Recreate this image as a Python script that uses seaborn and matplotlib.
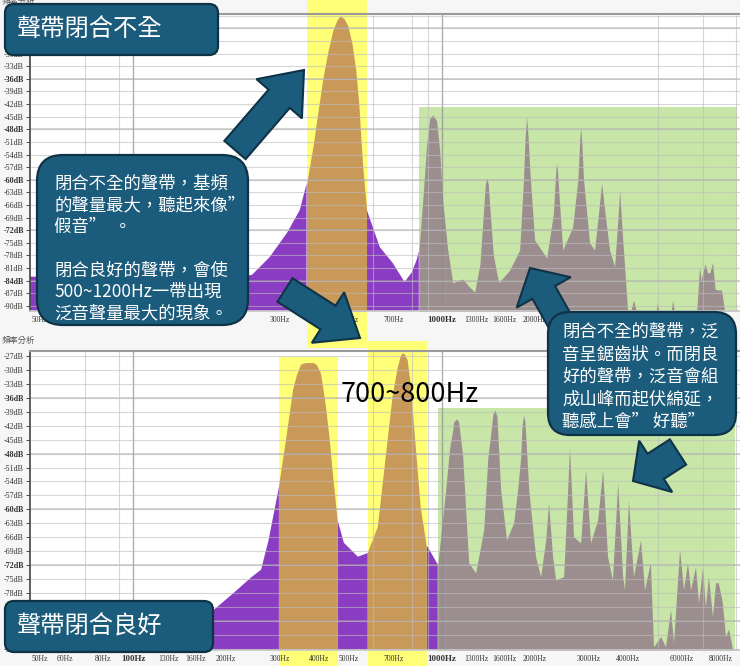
import numpy as np
import matplotlib
matplotlib.use("Agg")
import matplotlib.pyplot as plt
import matplotlib.patches as mpatches
from matplotlib.ticker import FixedLocator, LogLocator, NullFormatter
import seaborn as sns

# --- Data: spektrum for "閉合不全" (øverst) og "閉合良好" (nederst), Hz og dB ---
topp_hz = [46, 70, 100, 150, 206, 243, 277, 315, 347, 365, 383, 397, 412, 428, 444, 458,
           468, 482, 497, 512, 527, 539, 547, 555, 571, 630, 694, 758, 800, 830, 843, 868,
           894, 914, 935, 963, 985, 1007, 1046, 1086, 1170, 1230, 1279, 1330, 1370, 1385,
           1399, 1415, 1430, 1470, 1529, 1659, 1788, 1840, 1862, 1884, 1905, 1930, 1999,
           2188, 2300, 2340, 2356, 2372, 2410, 2466, 2656, 2760, 2800, 2818, 2840, 2880,
           3013, 3127, 3220, 3296, 3380, 3498, 3631, 3700, 3770, 3840, 3912, 3999, 4100,
           4182, 4260, 4950, 5000, 5050, 5540, 5598, 5660, 6700, 6842, 6920, 6998, 7130,
           7266, 7400, 7540, 7680, 7823, 8060, 8240, 9300]
topp_db = [-83.0, -83.5, -84.0, -83.8, -83.5, -82.6, -78.4, -72.7, -67.2, -61.0, -52.0,
           -44.0, -36.0, -29.5, -24.5, -22.0, -21.1, -21.6, -23.5, -27.5, -34.0, -42.0,
           -50.0, -57.0, -67.0, -76.0, -79.8, -84.3, -82.0, -79.0, -77.0, -65.0, -51.5,
           -45.5, -44.6, -46.0, -53.0, -64.8, -76.7, -84.5, -83.6, -85.5, -86.7, -80.0,
           -66.0, -61.0, -59.6, -61.0, -66.0, -78.0, -84.5, -81.5, -76.7, -60.0, -50.0,
           -45.1, -50.0, -58.0, -74.3, -78.6, -68.0, -58.0, -56.0, -58.0, -66.0, -76.7,
           -71.2, -60.0, -50.5, -47.7, -50.5, -60.0, -75.0, -76.7, -68.0, -60.8, -68.0,
           -76.7, -80.7, -72.0, -62.5, -72.0, -80.7, -91.0, -91.0, -88.6, -91.0, -91.0,
           -89.0, -91.0, -91.0, -88.6, -91.0, -91.0, -80.7, -84.0, -82.2, -80.0, -82.2,
           -82.0, -79.6, -86.0, -86.2, -86.2, -91.0, -91.0]

bunn_hz = [150, 172, 183, 212, 241, 260, 275, 286, 297, 313, 330, 340, 350, 357, 368, 385,
           394, 406, 412, 422, 434, 444, 460, 482, 535, 576, 621, 668, 694, 721, 737, 748,
           759, 776, 794, 812, 855, 894, 901, 971, 1030, 1060, 1086, 1093, 1119, 1135, 1170,
           1200, 1223, 1288, 1368, 1410, 1442, 1465, 1486, 1510, 1552, 1622, 1710, 1760,
           1803, 1820, 1841, 1860, 1914, 2014, 2091, 2172, 2219, 2286, 2339, 2483, 2558,
           2594, 2673, 2818, 2924, 3034, 3199, 3321, 3445, 3573, 3715, 3855, 3909, 4027,
           4178, 4406, 4539, 4742, 4853, 5117, 5309, 5508, 5636, 5893, 6072, 6252, 6397,
           6637, 6792, 6998, 7145, 7311, 7534, 7709, 7870, 8110, 8299, 8492, 8750, 9300]
bunn_db = [-92.0, -90.2, -81.6, -78.0, -74.7, -73.0, -66.6, -60.8, -55.2, -45.1, -34.3,
           -31.0, -28.9, -28.6, -28.5, -28.5, -28.9, -30.7, -33.2, -38.0, -45.1, -52.2,
           -62.3, -67.2, -70.2, -69.4, -63.8, -45.1, -35.4, -29.4, -27.0, -26.4, -26.6,
           -27.9, -33.2, -41.4, -59.5, -68.0, -68.1, -71.9, -55.8, -47.0, -42.9, -41.2,
           -40.5, -41.2, -48.7, -62.0, -71.5, -73.7, -64.4, -49.0, -43.6, -39.5, -38.6,
           -40.0, -55.8, -66.6, -62.9, -56.0, -48.7, -42.0, -39.7, -41.0, -55.8, -70.2,
           -74.5, -66.6, -58.6, -70.2, -75.2, -74.5, -55.8, -46.6, -65.9, -67.2, -51.5,
           -67.2, -62.3, -51.5, -70.2, -75.2, -54.3, -74.5, -77.3, -58.0, -74.5, -66.6,
           -77.3, -71.5, -89.6, -87.4, -89.6, -81.6, -88.7, -68.7, -77.3, -71.5, -77.3,
           -72.4, -80.1, -72.4, -81.0, -74.5, -83.1, -75.8, -75.8, -80.1, -87.4, -85.8,
           -90.2, -92.0]

# markerte områder: (fra Hz, til Hz, øverste dB)
topp_gul = [(365, 571, -10.0)]
topp_gronn = (843, 9016, -42.7)
bunn_gul = [(297, 460, -27.2), (576, 894, -23.8)]
bunn_gronn = (971, 8933, -38.2)

x_ticks = [50, 60, 80, 100, 130, 160, 200, 300, 400, 500, 700, 1000, 1300, 1600,
           2000, 3000, 4000, 6000, 8000]
# etiketter som ligger skjult bak tekstboksen i øvre panel
skjulte_topp = [60, 80, 100, 130, 160, 200]

LILLA = "#8A3CC2"
ORANSJE = "#C9995A"
GRA = "#9C8E8F"
GUL = "#FFFF78"
GRONN = "#C8E6A8"
BOKS = "#1B5B7C"
KANT = "#0F3346"

sns.set_theme(style="white")
plt.rcParams["font.family"] = ["Noto Sans CJK TC", "DejaVu Sans"]


def tegn_spektrum(ax, hz, db, gule, gronn, y_ticks, ylim, skjul=()):
    hz = np.array(hz, dtype=float)
    db = np.array(db, dtype=float)
    ax.set_xscale("log")
    ax.set_xlim(46.4, 9250)
    ax.set_ylim(*ylim)

    # bakgrunnsfelt
    for lo, hi, top in gule:
        ax.fill_between([lo, hi], top, -100, color=GUL, lw=0, zorder=0.5, clip_on=False)
    ax.fill_between([gronn[0], gronn[1]], gronn[2], -100, color=GRONN, lw=0, zorder=0.5)

    inne_gul = np.zeros(len(hz), bool)
    i_gul = np.zeros(len(hz), bool)
    for lo, hi, _ in gule:
        inne_gul |= (hz > lo) & (hz < hi)
        i_gul |= (hz >= lo) & (hz <= hi)
    inne_gronn = (hz > gronn[0]) & (hz < gronn[1])
    i_gronn = (hz >= gronn[0]) & (hz <= gronn[1])
    i_lilla = ~(inne_gul | inne_gronn)

    for maske, farge in [(i_lilla, LILLA), (i_gul, ORANSJE), (i_gronn, GRA)]:
        ax.fill_between(hz, db, -100, where=maske, color=farge, lw=0, zorder=1)

    # rutenett
    ax.set_axisbelow(False)
    ax.yaxis.set_major_locator(FixedLocator(y_ticks))
    ax.grid(which="major", axis="y", color="#BDBDBD", lw=0.8, alpha=0.6)
    for v in y_ticks:
        if v % 12 == 0:
            ax.axhline(v, color="#A8A8A8", lw=1.1, alpha=0.6, zorder=2)
    ax.xaxis.set_minor_locator(LogLocator(base=10, subs=np.arange(1, 10)))
    ax.xaxis.set_minor_formatter(NullFormatter())
    ax.grid(which="minor", axis="x", color="#BDBDBD", lw=0.8, alpha=0.6)
    for v in [100, 1000]:
        ax.axvline(v, color="#8C8C8C", lw=1.0, alpha=0.7, zorder=2)

    ax.xaxis.set_major_locator(FixedLocator(x_ticks))
    ax.set_xticklabels([f"{v}Hz" for v in x_ticks])
    ax.set_yticklabels([f"{v}dB" for v in y_ticks])
    for lab, v in zip(ax.get_xticklabels(), x_ticks):
        lab.set_family(["Liberation Serif"])
        lab.set_fontsize(5.5)
        if v in (100, 1000):
            lab.set_fontweight("bold")
            lab.set_fontsize(6.5)
        if v in skjul:
            lab.set_visible(False)
    for lab, v in zip(ax.get_yticklabels(), y_ticks):
        lab.set_family(["Liberation Serif"])
        lab.set_fontsize(5.8)
        if v % 12 == 0:
            lab.set_fontweight("bold")
    ax.tick_params(axis="both", which="major", length=2, width=0.6, pad=1.5, colors="#333333")
    ax.tick_params(axis="x", which="minor", length=0)
    ax.tick_params(axis="y", which="major", left=True, length=3)
    ax.spines["right"].set_visible(False)
    ax.spines["left"].set_color("#444444")
    ax.spines["left"].set_linewidth(1.2)
    ax.spines["top"].set_color("#9A9A9A")
    ax.spines["top"].set_linewidth(1.5)
    ax.spines["bottom"].set_color("#C8C8C8")
    ax.set_facecolor("white")


fig = plt.figure(figsize=(7.4, 6.66), dpi=100, facecolor="#F6F6F6")
ax1 = fig.add_axes([30 / 740, 355 / 666, 710 / 740, 297 / 666])
ax2 = fig.add_axes([30 / 740, 16 / 666, 710 / 740, 299 / 666])

tegn_spektrum(ax1, topp_hz, topp_db, topp_gul, topp_gronn, list(range(-21, -91, -3)),
              (-91.2, -20.6), skjul=skjulte_topp)
tegn_spektrum(ax2, bunn_hz, bunn_db, bunn_gul, bunn_gronn, list(range(-27, -91, -3)),
              (-90.3, -25.9))

# overlegg i piksler for bokser, piler og tekst
ov = fig.add_axes([0, 0, 1, 1])
ov.set_xlim(0, 740)
ov.set_ylim(666, 0)
ov.axis("off")
ov.patch.set_alpha(0)

ov.text(2, 340, "頻率分析", fontsize=6, color="#555555", va="center")
ov.text(2, 1, "頻率分析", fontsize=6, color="#555555", va="center")


def pil(x0, y0, x1, y1, bredde=28, hode=60, hodelengde=40):
    p = mpatches.FancyArrow(x0, y0, x1 - x0, y1 - y0, width=bredde, head_width=hode,
                            head_length=hodelengde, length_includes_head=True,
                            fc=BOKS, ec=KANT, lw=1.5, zorder=3)
    ov.add_patch(p)


pil(235, 150, 304, 70, bredde=28, hode=60, hodelengde=38)
pil(285, 290, 360, 338, bredde=28, hode=60, hodelengde=38)
pil(566, 332, 530, 268, bredde=26, hode=62, hodelengde=28)
pil(678, 452, 633, 481, bredde=30, hode=61, hodelengde=27)


def boks(x, y, w, h, r):
    b = mpatches.FancyBboxPatch((x, y), w, h, boxstyle=f"round,pad=0,rounding_size={r}",
                                fc=BOKS, ec=KANT, lw=1.6, zorder=4)
    ov.add_patch(b)


boks(5, 4, 213, 51, 9)
ov.text(17, 29, "聲帶閉合不全", color="white", fontsize=17.5, va="center", zorder=5)

boks(5, 601, 208, 51, 9)
ov.text(17, 627, "聲帶閉合良好", color="white", fontsize=17.5, va="center", zorder=5)

boks(37, 155, 211, 170, 26)
venstre_linjer = ["閉合不全的聲帶，基頻", "的聲量最大，聽起來像”", "假音”  。", "",
                  "閉合良好的聲帶，會使", "500~1200Hz一帶出現", "泛音聲量最大的現象。"]
for i, linje in enumerate(venstre_linjer):
    ov.text(54, 184 + i * 21.6, linje, color="white", fontsize=12.5, va="center", zorder=5)

boks(548, 312, 188, 123, 22)
hoyre_linjer = ["閉合不全的聲帶，泛", "音呈鋸齒狀。而閉良", "好的聲帶，泛音會組",
                "成山峰而起伏綿延，", "聽感上會” 好聽”"]
for i, linje in enumerate(hoyre_linjer):
    ov.text(562, 332 + i * 22.5, linje, color="white", fontsize=12.5, va="center", zorder=5)

ov.text(341, 395, "700~800Hz", color="black", fontsize=19.5, va="center", zorder=5)

fig.savefig("out.png", dpi=100, facecolor=fig.get_facecolor())
